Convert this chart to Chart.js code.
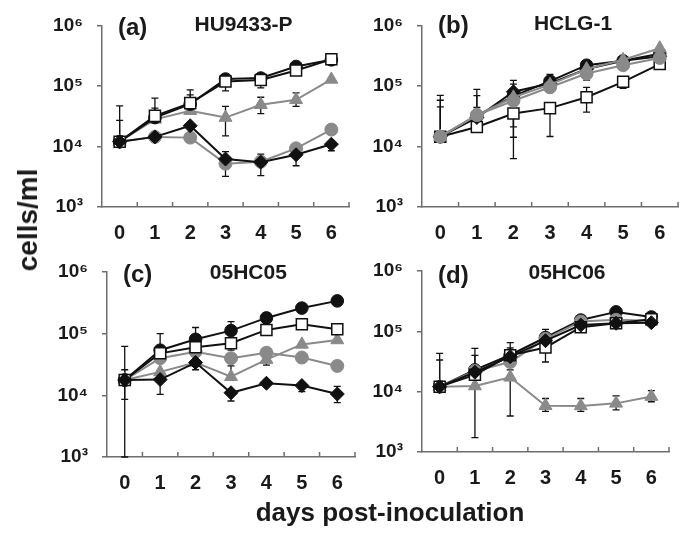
<!DOCTYPE html>
<html><head><meta charset="utf-8">
<script src="https://cdn.jsdelivr.net/npm/chart.js@4.4.1/dist/chart.umd.min.js"></script>
<style>
html,body{margin:0;padding:0;background:#fff;}
#wrap{position:relative;width:691px;height:544px;overflow:hidden;background:#fff;}
canvas{position:absolute;left:0;top:0;}
.lbl{position:absolute;font-family:"Liberation Sans",Arial,sans-serif;font-weight:bold;color:#1a1a1a;white-space:nowrap;line-height:30px;}
#ylab{left:28px;top:220px;font-size:28px;transform:translate(-50%,-50%) rotate(-90deg);}
#xlab{left:390px;top:497px;font-size:26px;transform:translateX(-50%);}
</style></head><body>
<div id="wrap">
<canvas id="ca" width="691" height="544"></canvas>
<canvas id="cb" width="691" height="544"></canvas>
<canvas id="cc" width="691" height="544"></canvas>
<canvas id="cd" width="691" height="544"></canvas>
<div class="lbl" id="ylab">cells/ml</div>
<div class="lbl" id="xlab">days post-inoculation</div>
</div>
<script>
// ---------- data ----------
const days = ['0','1','2','3','4','5','6'];
const yTicks = [1e3, 1e4, 1e5, 1e6];
const yTickLabels = ['10³','10⁴','10⁵','10⁶'];
const panelTags = ['(a)','(b)','(c)','(d)'];
const panelTitles = ['HU9433-P','HCLG-1','05HC05','05HC06'];

// panel (a) HU9433-P
const aBlackCircle  = [1.2e4, 3.0e4, 5.0e4, 1.3e5, 1.35e5, 2.1e5, 2.7e5];
const aWhiteSquare  = [1.2e4, 3.2e4, 5.2e4, 1.18e5, 1.25e5, 1.8e5, 2.75e5];
const aGrayTriangle = [1.2e4, 2.8e4, 3.9e4, 3.0e4, 4.9e4, 5.9e4, 1.28e5];
const aGrayCircle   = [1.2e4, 1.44e4, 1.4e4, 5.2e3, 5.6e3, 9.3e3, 1.9e4];
const aBlackDiamond = [1.2e4, 1.44e4, 2.2e4, 6.2e3, 5.5e3, 7.3e3, 1.09e4];
const aBlackCircleHi  = [4.7e4, 6.3e4, 8.6e4, 1.5e5, 1.5e5, null, null];
const aWhiteSquareHi  = [2.7e4, 4.3e4, 7.1e4, null, null, null, null];
const aWhiteSquareLo  = [null, null, null, 8.3e4, 9.3e4, null, null];
const aGrayTriangleHi = [null, null, null, 4.6e4, 6.5e4, 7.7e4, null];
const aGrayTriangleLo = [null, null, null, 1.5e4, 3.5e4, 4.6e4, null];
const aBlackDiamondHi = [null, null, null, 8.2e3, 7.5e3, null, null];
const aBlackDiamondLo = [null, 1.2e4, null, 3.2e3, 3.3e3, 4.8e3, 8.5e3];

// panel (b) HCLG-1
const bBlackCircle  = [1.45e4, 3.2e4, 6.8e4, 1.2e5, 2.2e5, 2.6e5, 3.4e5];
const bWhiteSquare  = [1.45e4, 2.1e4, 3.5e4, 4.3e4, 6.5e4, 1.17e5, 2.3e5];
const bGrayTriangle = [1.45e4, 3.3e4, 6.5e4, 1.05e5, 1.9e5, 2.7e5, 4.2e5];
const bGrayCircle   = [1.45e4, 3.3e4, 5.7e4, 9.5e4, 1.6e5, 2.2e5, 2.9e5];
const bBlackDiamond = [1.45e4, 3.0e4, 8.0e4, 1.1e5, 1.9e5, 2.6e5, 3.1e5];
const bBlackCircleHi  = [7.0e4, 8.8e4, 1.24e5, 1.55e5, null, null, null];
const bBlackDiamondHi = [5.8e4, 6.9e4, 1.07e5, 1.3e5, null, null, null];
const bGrayTriangleHi = [4.5e4, 4.4e4, null, null, null, null, null];
const bWhiteSquareHi  = [null, null, null, null, 9.5e4, null, null];
const bWhiteSquareLo  = [null, null, 6.3e3, 1.46e4, 3.7e4, 9.1e4, null];
const bBlackDiamondLo = [null, null, 1.42e4, null, null, null, null];
const bGrayCircleLo   = [null, null, 2.1e4, null, 1.25e5, null, null];

// panel (c) 05HC05
const cBlackCircle  = [1.77e4, 5.4e4, 8.1e4, 1.12e5, 1.8e5, 2.6e5, 3.4e5];
const cWhiteSquare  = [1.77e4, 4.8e4, 6.0e4, 7.0e4, 1.15e5, 1.42e5, 1.18e5];
const cGrayTriangle = [1.77e4, 2.4e4, 3.4e4, 2.0e4, 3.8e4, 6.7e4, 7.9e4];
const cGrayCircle   = [1.77e4, 4.0e4, 5.1e4, 4.0e4, 4.9e4, 4.1e4, 3.0e4];
const cBlackDiamond = [1.77e4, 1.8e4, 3.4e4, 1.1e4, 1.57e4, 1.44e4, 1.05e4];
const cBlackCircleHi  = [6.2e4, 1.0e5, 1.26e5, 1.57e5, null, null, null];
const cBlackCircleLo  = [1.0e3, null, null, null, null, null, null];
const cWhiteSquareLo  = [null, null, null, 5.4e4, null, null, null];
const cGrayTriangleHi = [2.6e4, null, null, 3.0e4, null, null, null];
const cGrayTriangleLo = [8.6e3, null, null, null, 3.1e4, null, null];
const cBlackDiamondHi = [null, null, null, null, 1.8e4, null, 1.4e4];
const cBlackDiamondLo = [null, 1.04e4, 2.6e4, 8.1e3, null, 1.15e4, 7.6e3];

// panel (d) 05HC06
const dBlackCircle  = [1.21e4, 2.3e4, 4.05e4, 7.9e4, 1.54e5, 2.1e5, 1.73e5];
const dWhiteSquare  = [1.21e4, 1.9e4, 4.0e4, 5.4e4, 1.17e5, 1.36e5, 1.58e5];
const dGrayTriangle = [1.21e4, 1.24e4, 1.73e4, 5.85e3, 5.8e3, 6.4e3, 8.3e3];
const dGrayCircle   = [1.21e4, 2.2e4, 3.1e4, 7.5e4, 1.45e5, 1.55e5, 1.5e5];
const dBlackDiamond = [1.21e4, 2.1e4, 3.8e4, 7.0e4, 1.27e5, 1.36e5, 1.39e5];
const dBlackCircleHi  = [4.3e4, 5.2e4, 6.5e4, 1.08e5, null, null, null];
const dBlackDiamondHi = [3.35e4, 4.0e4, 5.3e4, null, null, null, null];
const dWhiteSquareLo  = [null, null, null, 3.1e4, null, null, null];
const dGrayTriangleHi = [null, null, 2.3e4, 7.7e3, 7.7e3, 8.5e3, 1.04e4];
const dGrayTriangleLo = [null, 1.73e3, 3.95e3, 4.7e3, 4.7e3, 5.0e3, 6.8e3];

// ---------- styling ----------
const FONT = '"Liberation Sans", Arial, Helvetica, sans-serif';
const GRAY = '#8a8a8a';
const BLACK = '#111111';
const AXIS = '#6e6e6e';

function ds(data, kind, hi, lo){
  const st = {
    blackCircle:  {pointStyle:'circle', r:6.3, bg:BLACK, bc:BLACK, line:BLACK, bw:1},
    whiteSquare:  {pointStyle:'rect', r:7.8, bg:'#ffffff', bc:BLACK, line:BLACK, bw:1.5},
    grayTriangle: {pointStyle:'triangle', r:7.5, bg:GRAY, bc:GRAY, line:GRAY, bw:1},
    grayCircle:   {pointStyle:'circle', r:6.5, bg:GRAY, bc:GRAY, line:GRAY, bw:1},
    blackDiamond: {pointStyle:'rectRot', r:7, bg:BLACK, bc:BLACK, line:BLACK, bw:1}
  }[kind];
  return {
    data: data, errHi: hi || [], errLo: lo || [],
    borderColor: st.line, borderWidth: 2, fill: false, tension: 0,
    pointStyle: st.pointStyle, pointRadius: st.r, pointHoverRadius: st.r,
    pointBackgroundColor: st.bg, pointBorderColor: st.bc, pointBorderWidth: st.bw
  };
}

const errorBars = {
  id: 'errorBars',
  beforeDatasetsDraw(chart){
    const ctx = chart.ctx, xs = chart.scales.x, ys = chart.scales.y;
    ctx.save();
    ctx.strokeStyle = BLACK; ctx.lineWidth = 1.3;
    chart.data.datasets.forEach(d => {
      d.data.forEach((v, i) => {
        const px = xs.getPixelForValue(i), py = ys.getPixelForValue(v);
        [d.errHi[i], d.errLo[i]].forEach(e => {
          if (e == null) return;
          const ey = ys.getPixelForValue(Math.max(e, ys.min));
          ctx.beginPath();
          ctx.moveTo(px, py); ctx.lineTo(px, ey);
          ctx.moveTo(px - 3.5, ey); ctx.lineTo(px + 3.5, ey);
          ctx.stroke();
        });
      });
    });
    ctx.restore();
  }
};

const innerTicks = {
  id: 'innerTicks',
  afterDraw(chart){
    const ctx = chart.ctx, xs = chart.scales.x, a = chart.chartArea;
    const half = (xs.getPixelForValue(1) - xs.getPixelForValue(0)) / 2;
    ctx.save();
    ctx.strokeStyle = AXIS; ctx.lineWidth = 1.5;
    for (let i = 0; i < days.length; i++) {
      const px = xs.getPixelForValue(i) + half;
      ctx.beginPath(); ctx.moveTo(px, a.bottom); ctx.lineTo(px, a.bottom - 5); ctx.stroke();
    }
    ctx.restore();
  }
};

const panelText = {
  id: 'panelText',
  afterDraw(chart, args, opts){
    const ctx = chart.ctx, a = chart.chartArea;
    ctx.save();
    ctx.fillStyle = '#1a1a1a';
    ctx.textBaseline = 'alphabetic';
    ctx.font = 'bold 24px ' + FONT;
    ctx.textAlign = 'left';
    ctx.fillText(opts.tag, a.left + 16, a.top + opts.tagDy);
    ctx.font = 'bold 21px ' + FONT;
    ctx.textAlign = 'center';
    ctx.fillText(opts.title, a.left + (a.right - a.left) * opts.titleFx, a.top + opts.titleDy);
    ctx.restore();
  }
};

function makePanel(id, idx, box, sets){
  const YW = 60, XH = 40;
  new Chart(document.getElementById(id), {
    type: 'line',
    data: { labels: days, datasets: sets },
    plugins: [errorBars, innerTicks, panelText],
    options: {
      responsive: false, animation: false, events: [],
      layout: { padding: { left: box.l - YW, right: 691 - box.r, top: box.t, bottom: 544 - box.b - XH } },
      plugins: {
        legend: { display: false }, tooltip: { enabled: false },
        panelText: { tag: panelTags[idx], title: panelTitles[idx], tagDy: box.tagDy, titleDy: box.titleDy, titleFx: box.titleFx }
      },
      scales: {
        x: {
          type: 'category', offset: true,
          grid: { display: false, offset: true },
          border: { display: true, color: AXIS, width: 1.5 },
          ticks: { color: '#1a1a1a', font: { family: FONT, size: 20, weight: 'bold' }, padding: 6, maxRotation: 0 },
          afterFit(s){ s.height = XH; }
        },
        y: {
          type: 'logarithmic', min: 1e3, max: 1e6,
          afterBuildTicks(s){ s.ticks = yTicks.map(v => ({ value: v, major: true })); },
          grid: { drawOnChartArea: false, drawTicks: true, tickLength: 5, color: AXIS, lineWidth: 1.5 },
          border: { display: true, color: AXIS, width: 1.5 },
          ticks: { color: '#1a1a1a', font: { family: FONT, size: 19, weight: 'bold' }, padding: 14,
                   callback: (v, i) => yTickLabels[i] },
          afterFit(s){ s.width = YW; }
        }
      }
    }
  });
}

makePanel('ca', 0, {l:102, r:349, t:23, b:207, tagDy:10, titleDy:6, titleFx:0.573}, [
  ds(aBlackDiamond, 'blackDiamond', aBlackDiamondHi, aBlackDiamondLo),
  ds(aWhiteSquare, 'whiteSquare', aWhiteSquareHi, aWhiteSquareLo),
  ds(aBlackCircle, 'blackCircle', aBlackCircleHi),
  ds(aGrayTriangle, 'grayTriangle', aGrayTriangleHi, aGrayTriangleLo),
  ds(aGrayCircle, 'grayCircle')
]);
makePanel('cb', 1, {l:422, r:678, t:24, b:207, tagDy:8, titleDy:5, titleFx:0.59}, [
  ds(bGrayTriangle, 'grayTriangle', bGrayTriangleHi),
  ds(bGrayCircle, 'grayCircle', null, bGrayCircleLo),
  ds(bBlackDiamond, 'blackDiamond', bBlackDiamondHi, bBlackDiamondLo),
  ds(bBlackCircle, 'blackCircle', bBlackCircleHi),
  ds(bWhiteSquare, 'whiteSquare', bWhiteSquareHi, bWhiteSquareLo)
]);
makePanel('cc', 2, {l:107, r:355, t:272, b:457, tagDy:10, titleDy:7, titleFx:0.57}, [
  ds(cBlackDiamond, 'blackDiamond', cBlackDiamondHi, cBlackDiamondLo),
  ds(cWhiteSquare, 'whiteSquare', null, cWhiteSquareLo),
  ds(cBlackCircle, 'blackCircle', cBlackCircleHi, cBlackCircleLo),
  ds(cGrayTriangle, 'grayTriangle', cGrayTriangleHi, cGrayTriangleLo),
  ds(cGrayCircle, 'grayCircle')
]);
makePanel('cd', 3, {l:422, r:669, t:271, b:452, tagDy:12, titleDy:8, titleFx:0.587}, [
  ds(dBlackDiamond, 'blackDiamond', dBlackDiamondHi),
  ds(dWhiteSquare, 'whiteSquare', null, dWhiteSquareLo),
  ds(dGrayCircle, 'grayCircle'),
  ds(dBlackCircle, 'blackCircle', dBlackCircleHi),
  ds(dGrayTriangle, 'grayTriangle', dGrayTriangleHi, dGrayTriangleLo)
]);
</script>
</body></html>
